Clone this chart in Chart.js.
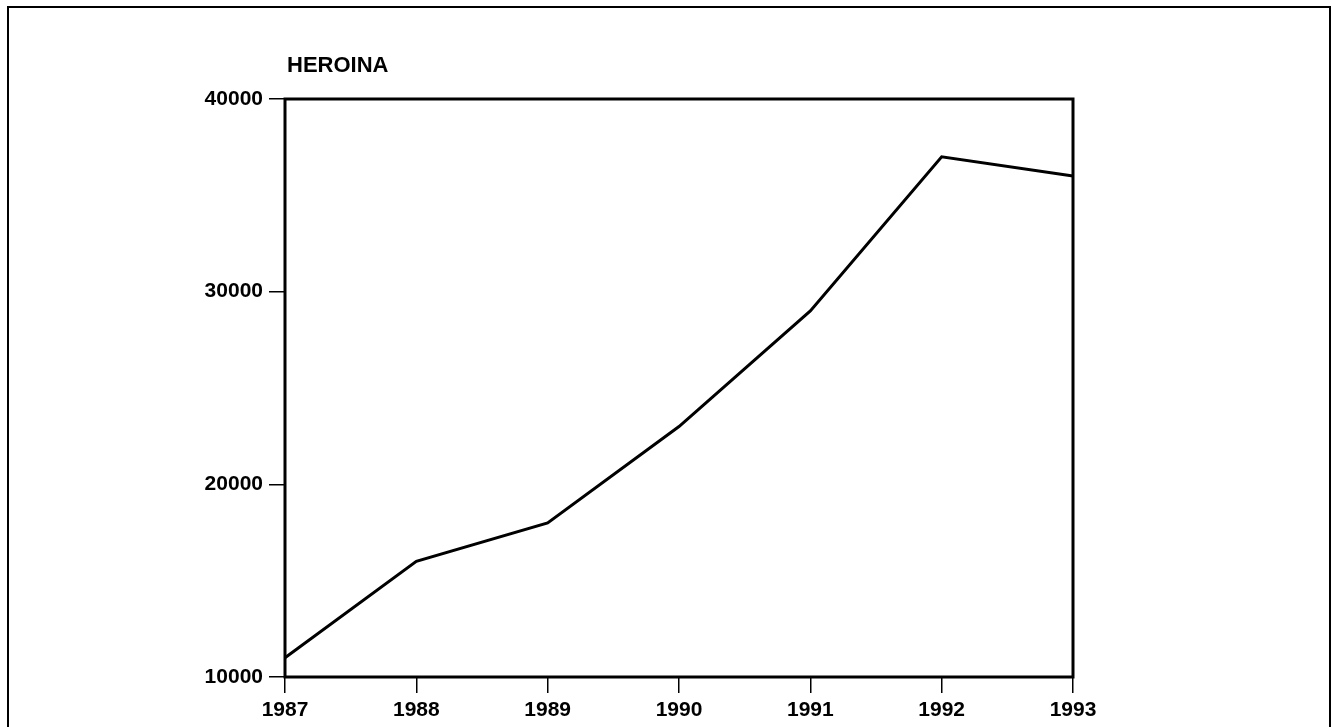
<!DOCTYPE html>
<html>
<head>
<meta charset="utf-8">
<title>HEROINA</title>
<script src="https://cdn.jsdelivr.net/npm/chart.js@4/dist/chart.umd.min.js"></script>
<style>
  html, body { margin: 0; padding: 0; background: #fff; }
  #wrap { position: relative; width: 1332px; height: 727px; }
</style>
</head>
<body>
<div id="wrap"><canvas id="myChart"></canvas></div>
<script>
// data
var years = ['1987', '1988', '1989', '1990', '1991', '1992', '1993'];
var heroina = [11000, 16000, 18000, 23000, 29000, 37000, 36000];
var yTicks = [10000, 20000, 30000, 40000];
var chartTitle = 'HEROINA';

var font = "'Liberation Sans', Arial, Helvetica, sans-serif";

// outer page frame, plot frame and the title
var framePlugin = {
    id: 'frame',
    afterDraw: function (chart) {
        var ctx = chart.ctx;
        var a = chart.chartArea;
        ctx.save();
        ctx.strokeStyle = '#000';
        ctx.lineWidth = 2;
        ctx.beginPath();
        ctx.moveTo(8, 740);
        ctx.lineTo(8, 7);
        ctx.lineTo(1330, 7);
        ctx.lineTo(1330, 740);
        ctx.stroke();

        ctx.lineWidth = 3;
        ctx.strokeRect(a.left, a.top, a.right - a.left, a.bottom - a.top);

        ctx.fillStyle = '#000';
        ctx.font = 'bold 22px ' + font;
        ctx.textBaseline = 'middle';
        ctx.textAlign = 'left';
        ctx.fillText(chartTitle, a.left + 2, 66);
        ctx.restore();
    }
};

var ctx = document.getElementById('myChart').getContext('2d');
var myChart = new Chart(ctx, {
    type: 'line',
    data: {
        labels: years,
        datasets: [{
            label: chartTitle,
            data: heroina,
            borderColor: '#000',
            borderWidth: 3,
            pointRadius: 0,
            tension: 0,
            fill: false
        }]
    },
    options: {
        responsive: true,
        maintainAspectRatio: false,
        animation: false,
        layout: {
            padding: { left: 0, right: 259, top: 99, bottom: 0 }
        },
        plugins: {
            legend: { display: false },
            title: { display: false },
            tooltip: { enabled: false }
        },
        scales: {
            x: {
                offset: false,
                grid: {
                    drawOnChartArea: false,
                    drawTicks: true,
                    tickLength: 16,
                    color: '#000',
                    lineWidth: 1.5
                },
                border: { display: false },
                ticks: {
                    color: '#000',
                    padding: 5,
                    maxRotation: 0,
                    font: { family: font, size: 21, weight: 'bold' }
                },
                afterFit: function (scale) { scale.height = 50; }
            },
            y: {
                min: 10000,
                max: 40000,
                afterBuildTicks: function (scale) {
                    scale.ticks = yTicks.map(function (v) { return { value: v }; });
                },
                grid: {
                    drawOnChartArea: false,
                    drawTicks: true,
                    tickLength: 16,
                    color: '#000',
                    lineWidth: 1.5
                },
                border: { display: false },
                ticks: {
                    color: '#000',
                    padding: 6,
                    font: { family: font, size: 21, weight: 'bold' },
                    callback: function (v) { return String(v); }
                },
                afterFit: function (scale) { scale.width = 285; }
            }
        }
    },
    plugins: [framePlugin]
});
</script>
</body>
</html>
